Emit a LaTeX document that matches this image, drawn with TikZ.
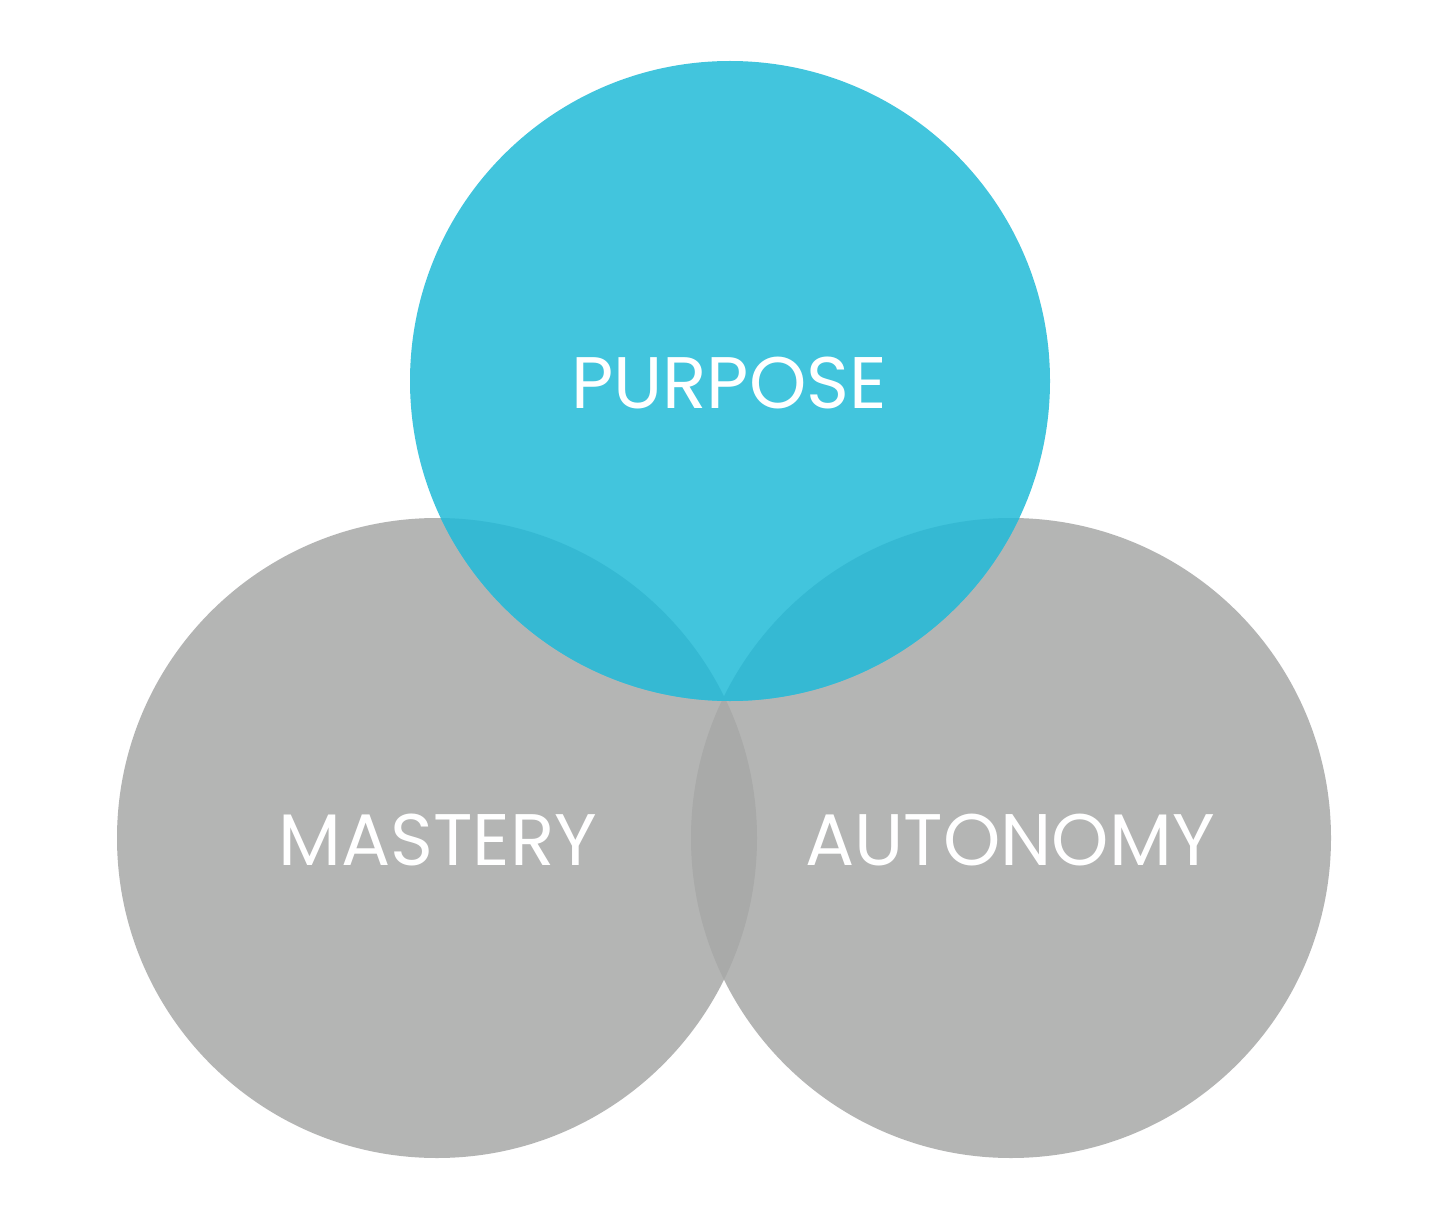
\documentclass[tikz,border=0pt]{standalone}
\usepackage{fontspec}
\setmainfont{Poppins}
\definecolor{cyanc}{HTML}{42C5DD}
\definecolor{cyanov}{HTML}{35B9D3}
\definecolor{grayc}{HTML}{B4B5B4}
\definecolor{grayov}{HTML}{A9AAA9}
\begin{document}
\begin{tikzpicture}[x=1pt,y=-1pt,
  lbl/.style={text=white,font=\fontsize{73}{78}\selectfont,inner sep=0pt}]
\useasboundingbox (0,0) rectangle (1440,1214);
\fill[white] (0,0) rectangle (1440,1214);
\def\R{320}
\coordinate (P) at (730,381);
\coordinate (M) at (437,838);
\coordinate (A) at (1011,838);
\fill[grayc] (M) circle (\R);
\fill[grayc] (A) circle (\R);
\begin{scope}
\clip (M) circle (\R);
\fill[grayov] (A) circle (\R);
\end{scope}
\fill[cyanc] (P) circle (\R);
\begin{scope}
\clip (P) circle (\R);
\fill[cyanov] (M) circle (\R);
\fill[cyanov] (A) circle (\R);
\end{scope}
\node[lbl] (purpose) at (729,383) {PURPOSE};
\node[lbl] (mastery) at (438,840) {MASTERY};
\node[lbl] (autonomy) at (1010,840) {AUTONOMY};
\end{tikzpicture}
\end{document}
